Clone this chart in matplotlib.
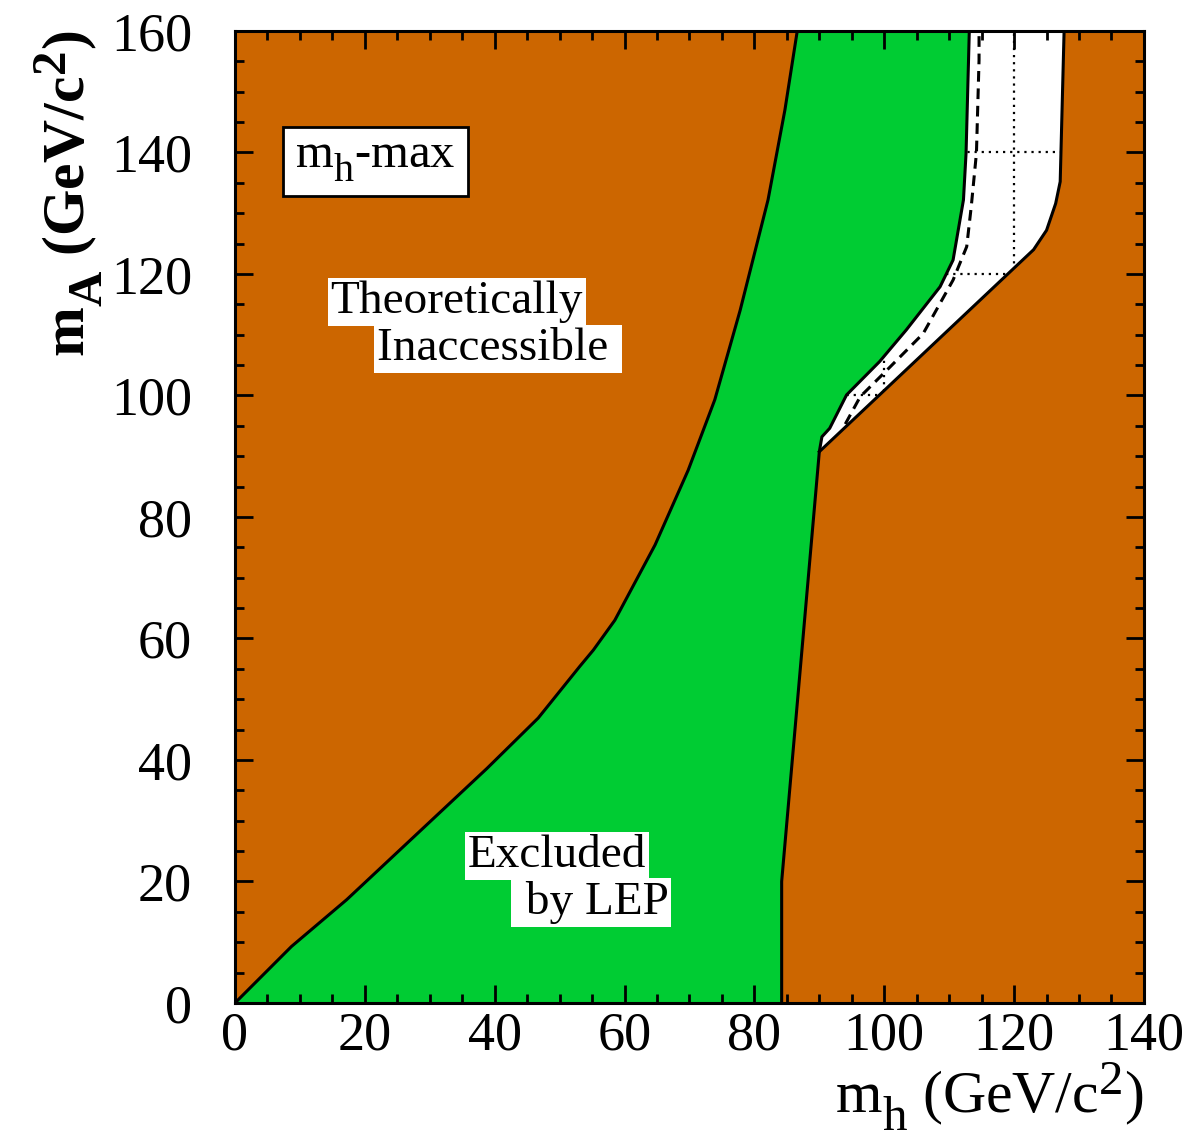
import matplotlib
matplotlib.use("Agg")
import matplotlib.pyplot as plt
from matplotlib.ticker import MultipleLocator
import numpy as np

try:
    import matplotlib._mathtext as _mt
    _mt.SHRINK_FACTOR = 0.82
    _mt.FontConstantsBase.sub1 = 0.65
except Exception:
    pass

plt.rcParams['font.family'] = ['Liberation Serif', 'DejaVu Serif']
plt.rcParams['mathtext.fontset'] = 'custom'
plt.rcParams['mathtext.rm'] = 'Liberation Serif'
plt.rcParams['mathtext.it'] = 'Liberation Serif:italic'
plt.rcParams['mathtext.bf'] = 'Liberation Serif:bold'

# ---- data (GeV/c^2) ----
# boundary between theoretically inaccessible (left) and LEP-excluded region
left_mh = [0, 8.7, 17.2, 38.8, 46.7, 53.1, 55.2, 58.5, 64.7, 69.8, 73.9, 77.8, 82.1, 84.7, 86.6]
left_mA = [0, 9.3, 17.0, 38.6, 46.9, 55.4, 58.1, 63.0, 75.4, 87.7, 99.3, 114.0, 132.2, 147.0, 160.0]

# right edge of LEP excluded region
excl_mh = [84.2, 84.2, 90.0, 90.4, 91.6, 94.2, 99.3, 103.4, 108.6, 110.6, 112.2, 112.6, 113.1]
excl_mA = [0, 20, 90.75, 93.2, 94.6, 100.1, 105.6, 110.8, 117.9, 122.3, 132.2, 139.9, 160.0]

# theoretical upper bound (right inaccessible region)
theo_mh = [90.0, 123.0, 125.0, 126.4, 127.1, 127.7]
theo_mA = [90.75, 124.0, 127.2, 131.6, 135.2, 160.0]

# expected exclusion (dashed)
exp_mh = [94.0, 96.3, 100.9, 106.0, 110.6, 112.7, 113.4, 114.2, 114.6, 114.6]
exp_mA = [95.3, 99.8, 104.7, 110.2, 119.0, 124.5, 131.1, 139.9, 155.2, 160.0]

xlim = (0, 140)
ylim = (0, 160)
major = 20
minor = 5

brown = '#CC6600'
green = '#00CC33'

fig = plt.figure(figsize=(11.91, 11.43), dpi=100)
ax = fig.add_axes([0.1973, 0.1225, 0.7632, 0.8504])
ax.set_xlim(*xlim)
ax.set_ylim(*ylim)
ax.set_facecolor('white')

# dotted grid (only visible in the allowed white region)
for gx in np.arange(xlim[0] + major, xlim[1], major):
    ax.axvline(gx, color='black', lw=1.6, ls=(0, (1, 2.2)), zorder=0.5)
for gy in np.arange(ylim[0] + major, ylim[1], major):
    ax.axhline(gy, color='black', lw=1.6, ls=(0, (1, 2.2)), zorder=0.5)

# left inaccessible region
lx = list(left_mh) + [xlim[0]]
ly = list(left_mA) + [ylim[1]]
ax.fill(lx, ly, color=brown, lw=0, zorder=1)

# right inaccessible region
rx = list(excl_mh[:3]) + list(theo_mh[1:]) + [xlim[1], xlim[1]]
ry = list(excl_mA[:3]) + list(theo_mA[1:]) + [ylim[1], ylim[0]]
ax.fill(rx, ry, color=brown, lw=0, zorder=1)

# LEP excluded region
gx_ = list(left_mh) + list(excl_mh[::-1])
gy_ = list(left_mA) + list(excl_mA[::-1])
ax.fill(gx_, gy_, color=green, lw=0, zorder=1)

lw = 2.2
ax.plot(left_mh, left_mA, color='black', lw=lw, zorder=2)
ax.plot(excl_mh, excl_mA, color='black', lw=lw, zorder=2)
ax.plot(theo_mh, theo_mA, color='black', lw=lw, zorder=2)
ax.plot(exp_mh, exp_mA, color='black', lw=2.2, ls=(0, (3.5, 2.2)), zorder=2)

# axes styling
ax.xaxis.set_major_locator(MultipleLocator(major))
ax.xaxis.set_minor_locator(MultipleLocator(minor))
ax.yaxis.set_major_locator(MultipleLocator(major))
ax.yaxis.set_minor_locator(MultipleLocator(minor))
ax.tick_params(which='both', direction='in', top=True, right=True, width=2.0, color='black')
ax.tick_params(which='major', length=13)
ax.tick_params(which='minor', length=6.5)
ax.tick_params(axis='x', which='major', labelsize=39, pad=6)
ax.tick_params(axis='y', which='major', labelsize=39, pad=31)
for s in ax.spines.values():
    s.set_linewidth(2.2)
    s.set_zorder(3)

ax.set_xlabel(r'$\mathregular{m_h\ (GeV/c^2)}$', fontsize=43, loc='right', labelpad=-1)
ax.set_ylabel(r'$\mathbf{m_A\ (GeV/c^2)}$', fontsize=43, loc='top', labelpad=4)

# annotations
ax.text(21.6, 138.5, r'$\mathregular{m_h}$-max', fontsize=35, ha='center', va='center',
        bbox=dict(boxstyle='square,pad=0.25', fc='white', ec='black', lw=2), zorder=4)
box = dict(boxstyle='square,pad=0.06', fc='white', ec='none')
ax.text(14.7, 113.5, 'Theoretically', fontsize=34, ha='left', va='baseline', bbox=box, zorder=4)
ax.text(21.8, 105.8, 'Inaccessible ', fontsize=34, ha='left', va='baseline', bbox=box, zorder=4)
ax.text(35.8, 22.4, 'Excluded', fontsize=34, ha='left', va='baseline', bbox=box, zorder=4)
ax.text(42.9, 14.6, ' by LEP', fontsize=34, ha='left', va='baseline', bbox=box, zorder=4)

fig.savefig('out.png', dpi=100)
